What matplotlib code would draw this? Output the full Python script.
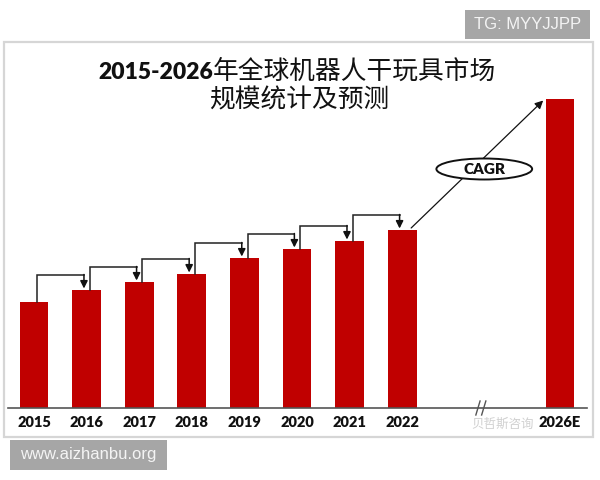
import matplotlib
matplotlib.use("Agg")
import matplotlib.pyplot as plt
from matplotlib.patches import Rectangle, Ellipse

# bar heights (arbitrary units, no y axis in the source)
years = ["2015", "2016", "2017", "2018", "2019", "2020", "2021", "2022", "2026E"]
positions = [0, 1, 2, 3, 4, 5, 6, 7, 10]
values = [10.6, 11.8, 12.6, 13.4, 15.0, 15.9, 16.7, 17.8, 30.9]

RED = "#C00000"
CJK = ["Noto Sans CJK SC", "DejaVu Sans"]
LAT = ["Lato", "Noto Sans CJK SC", "DejaVu Sans"]

fig = plt.figure(figsize=(6, 4.8), dpi=100)
W, H = 600, 480

# outer light grey frame
fig.patches.append(Rectangle((4 / W, 1 - 437 / H), 589 / W, 395 / H,
                             transform=fig.transFigure, fill=False,
                             edgecolor="#d6d6d6", linewidth=1.6, zorder=0))

ax = fig.add_axes([8 / W, 1 - 408 / H, 582 / W, 366 / H])
ax.set_xlim(-0.494, 10.57)
ax.set_ylim(0, 36.6)
ax.axis("off")

ax.bar(positions, values, width=0.545, color=RED, zorder=3)

# baseline with the axis break
ax.plot([-0.494, 10.51], [0, 0], color="#555555", lw=1.2, clip_on=False, zorder=4)
for xb in (8.44, 8.55):
    ax.plot([xb - 0.04, xb + 0.04], [-0.7, 0.7], color="#555555", lw=1.0,
            clip_on=False, zorder=5)

for p, y in zip(positions, years):
    ax.text(p, -1.45, y, ha="center", va="center", fontsize=10.5,
            fontweight="heavy", family=LAT, color="#111111", zorder=6)

# step connectors between the yearly bars
for i in range(7):
    x0 = positions[i] + 0.06
    x1 = positions[i + 1] - 0.05
    lvl = values[i + 1] + 1.55
    ax.plot([x0, x0, x1], [values[i], lvl, lvl], color="#222222", lw=1.1,
            zorder=4, solid_joinstyle="miter")
    ax.annotate("", xy=(x1, values[i + 1] + 0.15), xytext=(x1, lvl),
                arrowprops=dict(arrowstyle="-|>", color="#111111", lw=1.1,
                                mutation_scale=11, shrinkA=0, shrinkB=0),
                zorder=5)

# CAGR arrow toward the forecast bar
ax.annotate("", xy=(9.68, 30.75), xytext=(7.17, 18.0),
            arrowprops=dict(arrowstyle="-|>", color="#111111", lw=0.9,
                            mutation_scale=12, shrinkA=0, shrinkB=0), zorder=5)
ax.add_patch(Ellipse((8.56, 23.9), 1.82, 2.1, facecolor="white",
                     edgecolor="#111111", lw=1.4, zorder=6))
ax.text(8.56, 23.9, "CAGR", ha="center", va="center", fontsize=11,
        fontweight="heavy", family=LAT, color="#111111", zorder=7)

# title: bold latin digits followed by the Chinese part
t1 = fig.text(98 / W, 1 - 79 / H, "2015-2026", ha="left", va="baseline",
              fontsize=16.5, fontweight="heavy", family=LAT, color="#111111")
fig.canvas.draw()
bb = t1.get_window_extent(fig.canvas.get_renderer())
fig.text(bb.x1 / W, 1 - 79 / H, "年全球机器人干玩具市场",
         ha="left", va="baseline", fontsize=18.5, fontweight="medium",
         family=CJK, color="#111111")
fig.text(299 / W, 1 - 100 / H, "规模统计及预测", ha="center", va="center",
         fontsize=18.5, fontweight="medium", family=CJK, color="#111111")

# weibo watermark
fig.text(503 / W, 1 - 424 / H, "贝哲斯咨询", ha="center", va="center",
         fontsize=9, family=CJK, color="#c4c4c4", alpha=0.8)

# grey tag boxes
fig.patches.append(Rectangle((465 / W, 1 - 39 / H), 125 / W, 29 / H,
                             transform=fig.transFigure, facecolor="#a6a6a6",
                             edgecolor="none"))
fig.text(527.5 / W, 1 - 24.5 / H, "TG: MYYJJPP", ha="center", va="center",
         fontsize=12, family=["Liberation Sans"], color="#f4f4f4")
fig.patches.append(Rectangle((10 / W, 1 - 470 / H), 157 / W, 30 / H,
                             transform=fig.transFigure, facecolor="#a6a6a6",
                             edgecolor="none"))
fig.text(88.5 / W, 1 - 455 / H, "www.aizhanbu.org", ha="center", va="center",
         fontsize=12, family=["Liberation Sans"], color="#f4f4f4")

fig.savefig("out.png", dpi=100)
